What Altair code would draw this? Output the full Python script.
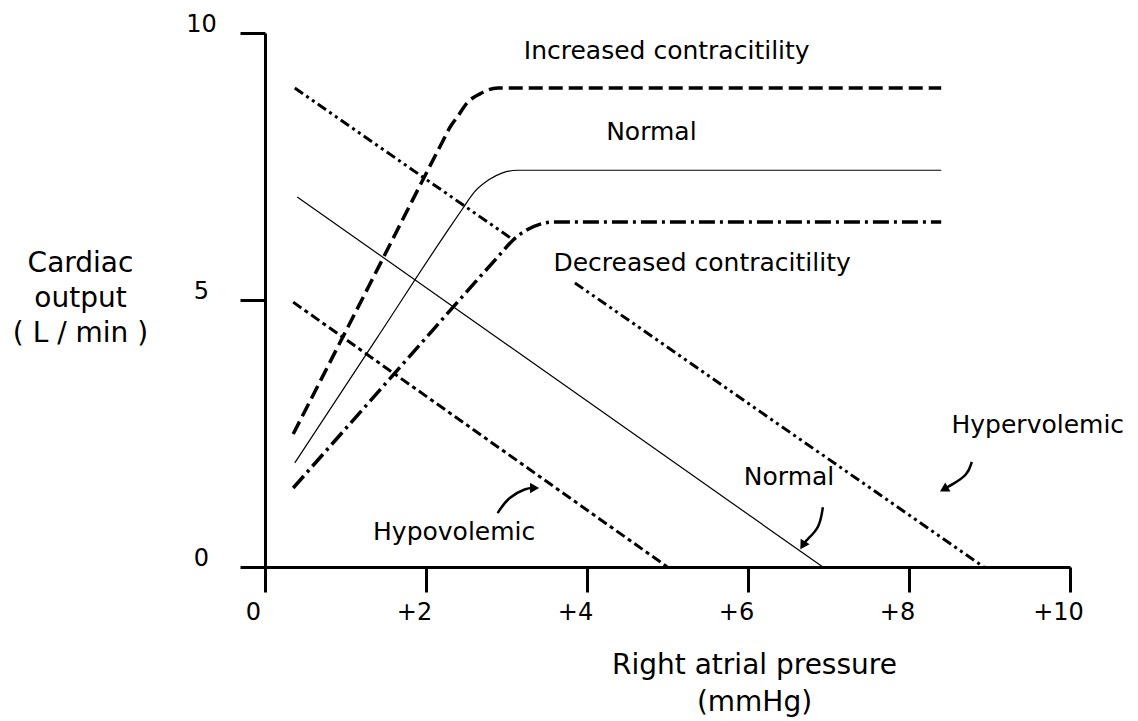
import altair as alt
import pandas as pd

# ---------------- data ----------------
# Cardiac function curves (cardiac output vs right atrial pressure)
inc_x = [0.35, 1.30, 2.20, 2.30, 2.39, 2.51, 2.67, 2.89, 8.40]
inc_y = [2.49, 5.29, 7.95, 8.24, 8.43, 8.69, 8.86, 8.97, 8.97]

ncf_x = [0.37, 1.40, 2.30, 2.45, 2.60, 2.78, 2.95, 3.14, 8.40]
ncf_y = [1.95, 4.31, 6.37, 6.70, 7.02, 7.25, 7.38, 7.43, 7.43]

dec_x = [0.35, 1.70, 2.90, 3.08, 3.25, 3.42, 3.58, 8.40]
dec_y = [1.48, 3.78, 5.82, 6.12, 6.31, 6.42, 6.46, 6.46]

# Venous return curves
hypo_x = [0.35, 5.00]
hypo_y = [4.96, 0.00]

nvr_x = [0.40, 6.93]
nvr_y = [6.93, 0.00]

hyper1_x = [0.37, 3.08]
hyper1_y = [8.97, 6.13]
hyper2_x = [3.85, 8.93]
hyper2_y = [5.32, 0.00]

# Annotation arrows (curved shafts + heads)
arr_hypo_x = [2.89, 3.02, 3.25, 3.33]
arr_hypo_y = [1.01, 1.31, 1.48, 1.48]
arr_norm_x = [6.93, 6.89, 6.73, 6.70]
arr_norm_y = [1.12, 0.73, 0.51, 0.45]
arr_hyper_x = [8.78, 8.73, 8.53, 8.47]
arr_hyper_y = [1.97, 1.72, 1.54, 1.49]

head_x = [3.33, 6.69, 8.45]
head_y = [1.48, 0.43, 1.47]
head_angle = [90, 212, 240]

# Text labels
label_text = ["Increased contracitility", "Normal", "Decreased contracitility",
              "Hypervolemic", "Normal", "Hypovolemic"]
label_x = [4.99, 4.80, 5.43, 9.60, 6.51, 2.35]
label_y = [9.66, 8.15, 5.69, 2.66, 1.69, 0.66]

x_ticks = [0, 2, 4, 6, 8, 10]
y_ticks = [0, 5, 10]

FONT = "DejaVu Sans"


def frame(xs, ys):
    return pd.DataFrame({"x": xs, "y": ys, "order": list(range(len(xs)))})


xscale = alt.Scale(domain=[0, 10], nice=False, zero=False)
yscale = alt.Scale(domain=[0, 10], nice=False, zero=False)

xaxis = alt.Axis(
    values=x_ticks,
    labelExpr="datum.value == 0 ? '0' : '+' + datum.value",
    grid=False, tickSize=25, tickWidth=3, domainWidth=3,
    domainColor="black", tickColor="black",
    labelFont=FONT, labelFontSize=24, labelColor="black",
    labelPadding=8, labelOffset=-12, labelFlush=False, labelOverlap=False,
    title=["Right atrial pressure", "(mmHg)"],
    titleFont=FONT, titleFontSize=28, titleFontWeight="normal", titleColor="black",
    titleX=489, titleY=84, titleAlign="center", titleBaseline="top",
    titleLineHeight=37,
)
yaxis = alt.Axis(
    values=y_ticks,
    grid=False, tickSize=25, tickWidth=3, domainWidth=3,
    domainColor="black", tickColor="black",
    labelFont=FONT, labelFontSize=24, labelColor="black",
    labelAlign="center", labelBaseline="middle",
    labelPadding=39, labelOffset=-9, labelFlush=False, labelOverlap=False,
    title=["Cardiac", "output", "( L / min )"],
    titleFont=FONT, titleFontSize=28, titleFontWeight="normal", titleColor="black",
    titleAngle=0, titleX=-185, titleY=216, titleAlign="center", titleBaseline="top",
    titleLineHeight=35,
)

X = alt.X("x:Q", scale=xscale, axis=xaxis)
Y = alt.Y("y:Q", scale=yscale, axis=yaxis)


def line(xs, ys, width, dash=None, interp="linear"):
    kw = dict(color="black", strokeWidth=width, interpolate=interp, clip=False)
    if dash is not None:
        kw["strokeDash"] = dash
    return alt.Chart(frame(xs, ys)).mark_line(**kw).encode(
        x=X, y=Y, order=alt.Order("order:Q")
    )


layers = [
    line(inc_x, inc_y, 3.5, [14, 6], "monotone"),
    line(ncf_x, ncf_y, 1.2, None, "monotone"),
    line(dec_x, dec_y, 3.5, [16, 5, 3, 5], "monotone"),
    line(hypo_x, hypo_y, 3, [10, 4, 4, 4]),
    line(nvr_x, nvr_y, 1.2),
    line(hyper1_x, hyper1_y, 3, [10, 4, 3, 4, 3, 4]),
    line(hyper2_x, hyper2_y, 3, [10, 4, 3, 4, 3, 4]),
    line(arr_hypo_x, arr_hypo_y, 2.5, None, "basis"),
    line(arr_norm_x, arr_norm_y, 2.5, None, "basis"),
    line(arr_hyper_x, arr_hyper_y, 2.5, None, "basis"),
]

heads = alt.Chart(pd.DataFrame({"x": head_x, "y": head_y, "angle": head_angle})).mark_point(
    shape="triangle", filled=True, size=110, color="black", opacity=1
).encode(x=X, y=Y, angle=alt.Angle("angle:Q", scale=None))

labels = alt.Chart(pd.DataFrame({"t": label_text, "x": label_x, "y": label_y})).mark_text(
    font=FONT, fontSize=25, align="center", baseline="middle", color="black"
).encode(x=X, y=Y, text="t:N")

chart = alt.layer(*layers, heads, labels).properties(
    width=805, height=534,
    padding={"left": 257, "top": 25, "right": 60, "bottom": 152},
    autosize=alt.AutoSizeParams(type="none"),
    background="white",
).configure_view(stroke=None)

chart.save("out.html", embed_options={"renderer": "svg", "actions": False})
